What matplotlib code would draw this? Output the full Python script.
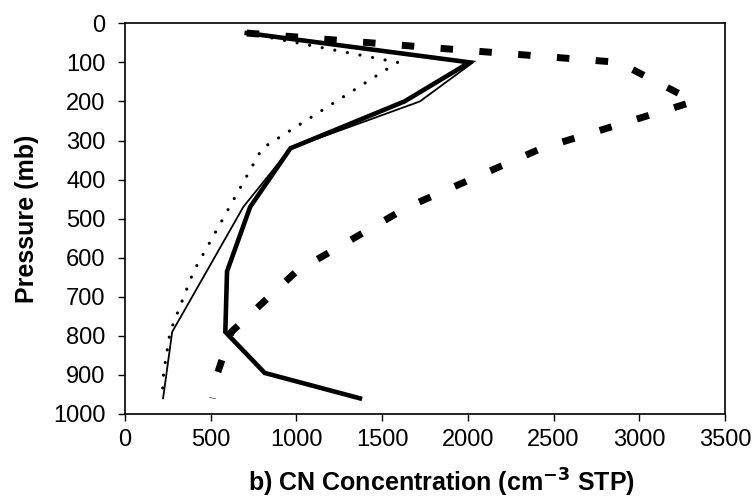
import matplotlib.pyplot as plt

plt.rcParams['font.family'] = ['Liberation Sans', 'DejaVu Sans']

# Pressure levels (mb)
pres = [25, 100, 200, 320, 470, 635, 790, 895, 960]

# CN concentration profiles (cm-3 STP)
cn_thick = [710, 2010, 1630, 965, 730, 595, 585, 815, 1370]
pres_thin = [25, 100, 200, 320, 470, 790, 960]
cn_thin = [710, 2030, 1720, 965, 690, 275, 222]
cn_dot = [710, 1590, 800, 610, 400, 263, 225, 216]
pres_dot = [25, 100, 320, 470, 635, 790, 895, 960]
cn_dash = [710, 2880, 3320, 2430, 1650, 1000, 620, 540, 510]

fig = plt.figure(figsize=(7.55, 5.01), dpi=100)
ax = fig.add_axes([0.1656, 0.1737, 0.7947, 0.7798])

ax.plot(cn_dash, pres, color='black', lw=5, linestyle=(0, (1.8, 3.8)),
        dash_capstyle='butt')
ax.plot(cn_dot, pres_dot, color='black', lw=2.3, linestyle=(0, (0.01, 4.0)),
        dash_capstyle='round')
ax.plot(cn_thin, pres_thin, color='black', lw=1.3)
ax.plot(cn_thick, pres, color='black', lw=3.3, solid_joinstyle='miter')

ax.set_xlim(0, 3500)
ax.set_ylim(1000, 0)
ax.set_xticks(range(0, 3501, 500))
ax.set_yticks(range(0, 1001, 100))
ax.tick_params(direction='out', length=5, width=1, labelsize=17,
               top=False, right=False)
ax.tick_params(axis='y', pad=9)
ax.tick_params(axis='x', pad=6)
for s in ax.spines.values():
    s.set_linewidth(1.2)

ax.set_xlabel('b) CN Concentration (cm$^{\\mathbf{-3}}$ STP)', fontsize=18,
              fontweight='bold')
ax.xaxis.set_label_coords(0.528, -0.135)
ax.set_ylabel('Pressure (mb)', fontsize=18, fontweight='bold', labelpad=10)

fig.savefig('out.png', dpi=100)
